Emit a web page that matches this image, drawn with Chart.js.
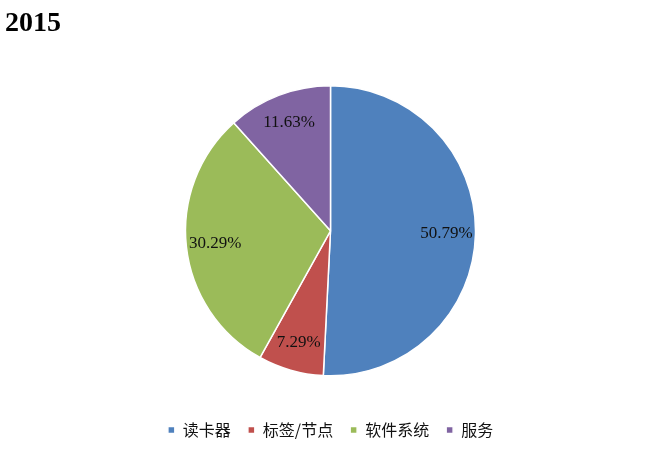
<!DOCTYPE html>
<html>
<head>
<meta charset="utf-8">
<script src="https://cdn.jsdelivr.net/npm/chart.js@4/dist/chart.umd.min.js"></script>
<style>
  html, body { margin: 0; padding: 0; background: #fff; }
  #wrap { width: 661px; height: 451px; }
</style>
</head>
<body>
<div id="wrap"><canvas id="pieChart"></canvas></div>
<script>
const chartTitle = '2015';
const categories = ['读卡器', '标签/节点', '软件系统', '服务'];
const shares = [50.79, 7.29, 30.29, 11.63];
const sliceColors = ['#4F81BD', '#C0504D', '#9BBB59', '#8064A2'];

// percent labels inside each slice
const sliceLabels = {
    id: 'sliceLabels',
    afterDatasetsDraw(chart) {
        const ctx = chart.ctx;
        const meta = chart.getDatasetMeta(0);
        ctx.save();
        ctx.font = '17px "Liberation Serif", "Times New Roman", serif';
        ctx.fillStyle = '#111';
        ctx.textAlign = 'center';
        ctx.textBaseline = 'middle';
        meta.data.forEach((arc, i) => {
            const p = arc.getProps(['x', 'y', 'startAngle', 'endAngle', 'outerRadius'], true);
            const mid = (p.startAngle + p.endAngle) / 2;
            const r = p.outerRadius * 0.8;
            ctx.fillText(shares[i].toFixed(2) + '%', p.x + Math.cos(mid) * r, p.y + Math.sin(mid) * r);
        });
        ctx.restore();
    }
};

new Chart(document.getElementById('pieChart').getContext('2d'), {
    type: 'pie',
    data: {
        labels: categories,
        datasets: [{
            data: shares,
            backgroundColor: sliceColors,
            borderColor: '#fff',
            borderWidth: 1.5,
            radius: 145
        }]
    },
    options: {
        responsive: true,
        maintainAspectRatio: false,
        animation: false,
        layout: { padding: { left: 5, right: 5, top: 0, bottom: 3 } },
        plugins: {
            title: {
                display: true,
                text: chartTitle,
                align: 'start',
                color: '#000',
                font: { family: '"Liberation Serif", "Times New Roman", serif', size: 28, weight: 'bold' },
                padding: { top: 7, bottom: 16 }
            },
            legend: {
                position: 'bottom',
                labels: {
                    boxWidth: 7,
                    boxHeight: 7,
                    padding: 17,
                    color: '#111',
                    font: { family: '"Noto Sans CJK SC", sans-serif', size: 16 }
                }
            },
            tooltip: { enabled: false }
        }
    },
    plugins: [sliceLabels]
});
</script>
</body>
</html>
